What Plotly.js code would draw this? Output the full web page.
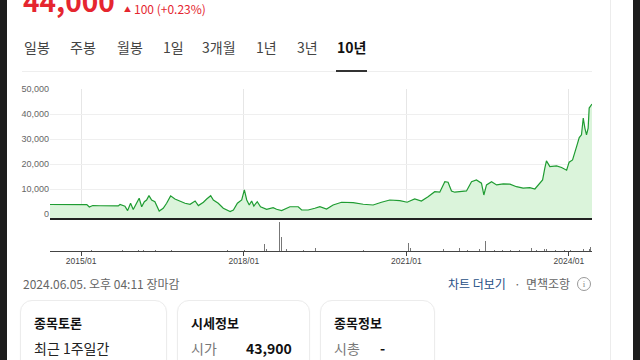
<!DOCTYPE html>
<html><head><meta charset="utf-8">
<script src="https://cdn.plot.ly/plotly-3.0.1.min.js"></script>
<style>
html,body{margin:0;padding:0;width:640px;height:360px;overflow:hidden;background:#fff;font-family:"Noto Sans CJK KR","Noto Sans",sans-serif;}
.a{position:absolute;white-space:nowrap;}
.bar{position:absolute;top:0;height:360px;background:#1c1c1c;}
.tab{position:absolute;top:39px;font-size:14px;line-height:16px;color:#444;}
.card{position:absolute;top:300px;height:90px;border:1px solid #ececec;border-radius:12px;background:#fff;box-shadow:0 1px 2px rgba(0,0,0,0.04);}
.ct{position:absolute;top:315px;font-size:13px;line-height:16px;font-weight:bold;color:#111;}
.cb{position:absolute;top:339px;font-size:14px;line-height:18px;color:#222;}
</style></head><body>
<div class="bar" style="left:0;width:7px"></div>
<div class="bar" style="left:633px;width:7px"></div>
<div class="a" style="left:610px;top:0;width:1px;height:360px;background:#ececec"></div>

<div class="a" style="left:23px;top:-17px;font-size:28px;line-height:34px;font-weight:bold;color:#e5262f;">44,000</div>
<div class="a" style="left:124px;top:1px;font-size:7px;line-height:16px;color:#e5262f;">▲</div>
<div class="a" style="left:134px;top:0px;font-size:12px;line-height:18px;color:#e5262f;">100 (+0.23%)</div>

<div class="tab" style="left:24px">일봉</div>
<div class="tab" style="left:70px">주봉</div>
<div class="tab" style="left:117px">월봉</div>
<div class="tab" style="left:163px">1일</div>
<div class="tab" style="left:202px">3개월</div>
<div class="tab" style="left:256px">1년</div>
<div class="tab" style="left:297px">3년</div>
<div class="tab" style="left:337px;color:#111;font-weight:bold">10년</div>
<div class="a" style="left:22px;top:71px;width:570px;height:1px;background:#eeeeee"></div>
<div class="a" style="left:336px;top:70px;width:31px;height:2px;background:#333"></div>

<div id="chart" class="a" style="left:0;top:80px;width:640px;height:190px"></div>

<div class="a" style="left:23px;top:276px;font-size:12px;line-height:16px;color:#666;">2024.06.05. 오후 04:11 장마감</div>
<div class="a" style="left:448px;top:276px;font-size:12px;line-height:16px;color:#1f4f86;">차트 더보기</div>
<div class="a" style="left:514px;top:276px;font-size:12px;line-height:16px;color:#666;">·</div>
<div class="a" style="left:526px;top:276px;font-size:12px;line-height:16px;color:#666;">면책조항</div>
<div class="a" style="left:577px;top:277px;width:12px;height:12px;border:1px solid #999;border-radius:50%;font-size:9px;line-height:12px;text-align:center;color:#888;font-family:'Liberation Serif',serif;">i</div>

<div class="card" style="left:20px;width:145px"></div>
<div class="card" style="left:177px;width:131px"></div>
<div class="card" style="left:320px;width:113px"></div>
<div class="ct" style="left:34px">종목토론</div>
<div class="cb" style="left:34px">최근 1주일간</div>
<div class="ct" style="left:191px">시세정보</div>
<div class="cb" style="left:191px;color:#777">시가</div>
<div class="cb" style="left:246px;font-weight:bold;color:#111">43,900</div>
<div class="ct" style="left:334px">종목정보</div>
<div class="cb" style="left:334px;color:#777">시총</div>
<div class="cb" style="left:380px;font-weight:bold;color:#111">-</div>

<script>
const priceDates = [
'2014-06-05','2014-12-23','2015-02-08','2015-02-25','2015-03-20','2015-05-08','2015-09-08','2015-09-20',
'2015-10-23','2015-11-10','2015-11-30','2015-12-18','2016-01-27','2016-02-13','2016-03-02','2016-03-17',
'2016-04-02','2016-04-20','2016-05-12','2016-06-10','2016-07-07','2016-07-30','2016-08-26','2016-09-24',
'2016-10-28','2016-12-01','2017-01-04','2017-02-07','2017-03-01','2017-04-04','2017-04-26','2017-05-23',
'2017-06-10','2017-07-13','2017-08-16','2017-10-01','2017-10-23','2017-11-19','2017-12-18','2018-01-05',
'2018-01-21','2018-02-07','2018-02-23','2018-03-10','2018-04-02','2018-04-24','2018-06-04','2018-07-18',
'2018-08-10','2018-09-13','2018-11-08','2019-01-03','2019-01-26','2019-03-11','2019-04-25','2019-05-29',
'2019-07-13','2019-08-26','2019-10-22','2020-01-08','2020-03-16','2020-05-22','2020-07-17','2020-09-11',
'2020-11-18','2021-01-06','2021-02-26','2021-04-12','2021-05-27','2021-07-11','2021-08-14','2021-09-01',
'2021-09-17','2021-10-09','2021-11-01','2021-11-23','2021-12-27','2022-02-10','2022-03-16','2022-04-18',
'2022-05-22','2022-06-07','2022-06-25','2022-07-29','2022-09-01','2022-10-16','2022-11-30','2023-01-13',
'2023-02-27','2023-04-13','2023-05-17','2023-06-20','2023-07-08','2023-07-23','2023-08-03','2023-08-26',
'2023-10-10','2023-11-13','2023-12-17','2024-01-03','2024-01-26','2024-02-22','2024-03-11','2024-03-26',
'2024-04-07','2024-04-18','2024-04-29','2024-05-10','2024-05-17','2024-06-05'
];
const priceValues = [
3900,3900,3850,2900,3500,3400,3350,3900,
3200,1450,4400,1900,6400,3000,5000,5700,
7450,5700,5000,1300,2400,4400,7350,6100,
5300,4400,4000,5300,3450,4800,6100,7400,
5700,4400,2400,1050,1700,4400,5700,9700,
5700,3700,5300,3300,5000,3000,2000,2650,
2000,1450,3000,3000,1700,1700,2400,3050,
2100,3700,4800,4650,4000,3700,4800,5700,
5450,4800,6100,5300,7000,9000,8800,11000,
13000,12800,9300,8800,9000,9300,13000,13700,
12400,7700,11700,13000,11700,12100,12000,11000,
10400,10650,10100,12400,13700,18400,21300,19000,
19300,18650,17600,20800,21700,27000,30600,31700,
38400,34400,31700,34400,42400,44000
];
const volDates = [
'2015-03-10','2015-10-05','2015-11-12','2016-01-20','2016-02-25','2016-05-15','2016-09-01','2017-03-10',
'2017-06-01','2017-09-15','2017-12-20','2018-01-08','2018-05-23','2018-06-05','2018-09-01','2018-09-10',
'2018-10-15','2019-02-10','2019-05-01','2019-09-20','2020-03-20','2020-08-10','2021-01-15','2021-01-30',
'2021-03-20','2021-06-15','2021-09-10','2021-12-27','2022-02-15','2022-05-10','2022-06-20','2022-08-20',
'2022-10-10','2022-12-05','2023-02-01','2023-04-25','2023-05-30','2023-07-20','2023-08-05','2023-10-01',
'2023-12-01','2024-01-10','2024-02-25','2024-04-08','2024-05-17','2024-05-28'
];
const volValues = [
60000,80000,120000,100000,90000,70000,60000,50000,
60000,70000,80000,150000,700000,180000,2900000,1400000,
200000,60000,300000,50000,60000,70000,850000,350000,
120000,100000,250000,350000,100000,180000,1000000,120000,
100000,110000,130000,300000,150000,200000,180000,120000,
130000,150000,220000,180000,250000,450000
];
const xTickDates = ['2015-01-01','2018-01-01','2021-01-01','2024-01-01'];
const xTickText = ['2015/01','2018/01','2021/01','2024/01'];
const yTickVals = [0,10000,20000,30000,40000,50000];
const yTickText = ['0','10,000','20,000','30,000','40,000','50,000'];
const PRICE_FLOOR = -1600;
const PRICE_TOP = 50000;
const VOL_TOP = 2900000;
const X_RANGE = ['2014-06-05','2024-06-05'];

const last = priceDates.length - 1;
const traces = [
  {x:[priceDates[0], priceDates[last]], y:[PRICE_FLOOR, PRICE_FLOOR], xaxis:'x2', yaxis:'y',
   type:'scatter', mode:'lines', line:{width:0, color:'rgba(0,0,0,0)'}, hoverinfo:'skip', showlegend:false},
  {x:priceDates, y:priceValues, xaxis:'x2', yaxis:'y', type:'scatter', mode:'lines',
   fill:'tonexty', fillcolor:'#dbf4db', line:{color:'#1f9c32', width:1.2}, showlegend:false},
  {x:volDates, y:volValues, xaxis:'x', yaxis:'y2', type:'bar', width:5*86400000,
   marker:{color:'#777', line:{width:0}}, showlegend:false}
];
const layout = {
  width:640, height:190,
  margin:{l:50, r:48, t:9, b:19},
  paper_bgcolor:'rgba(0,0,0,0)', plot_bgcolor:'rgba(0,0,0,0)',
  showlegend:false, bargap:0,
  font:{family:'"Liberation Sans", Arial, sans-serif', color:'#666'},
  xaxis:{domain:[0,1], anchor:'y2', type:'date', range:X_RANGE, tickmode:'array', tickvals:xTickDates, ticktext:xTickText,
    ticks:'outside', ticklen:4, tickwidth:1, tickcolor:'#444', showline:true, linecolor:'#444', linewidth:1,
    ticklabelstandoff:-2,
    showgrid:false, zeroline:false, tickfont:{size:8.5, color:'#444'}},
  xaxis2:{domain:[0,1], anchor:'y', type:'date', matches:'x', tickmode:'array', tickvals:xTickDates,
    showticklabels:false, ticks:'', showgrid:true, gridcolor:'#e6e6e6', gridwidth:1,
    showline:true, linecolor:'#222', linewidth:1.5, zeroline:false},
  yaxis:{domain:[0.202,1], range:[PRICE_FLOOR, PRICE_TOP], tickmode:'array', tickvals:yTickVals, ticktext:yTickText,
    tickfont:{size:9, color:'#666'}, gridcolor:'#efefef', gridwidth:1, zeroline:false, showline:false, ticks:''},
  yaxis2:{domain:[0,0.179], range:[0, VOL_TOP], showgrid:false, zeroline:false, showticklabels:false, showline:false, ticks:''}
};
Plotly.newPlot('chart', traces, layout, {staticPlot:true, displayModeBar:false});
</script>
</body></html>
